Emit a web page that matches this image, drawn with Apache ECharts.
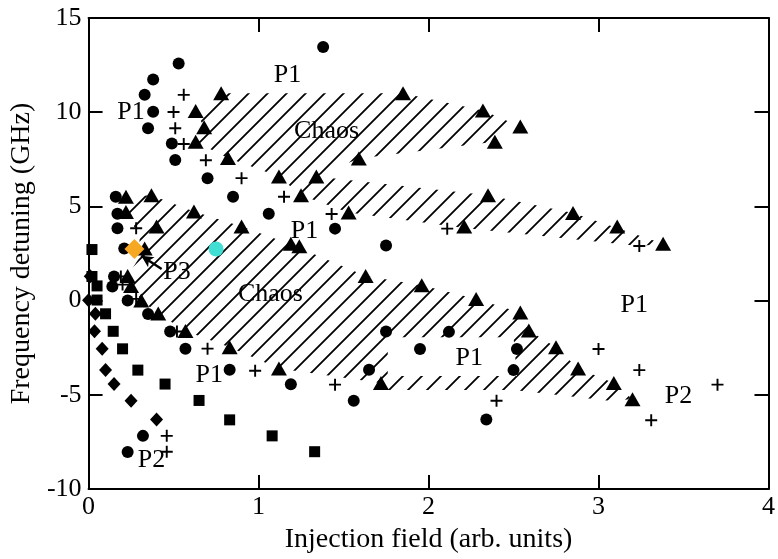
<!DOCTYPE html>
<html>
<head>
<meta charset="utf-8">
<title>Injection map</title>
<script src="https://cdn.jsdelivr.net/npm/echarts/dist/echarts.min.js"></script>
<style>
  html, body { margin: 0; padding: 0; background: #fff; }
  #chart { width: 778px; height: 559px; }
</style>
</head>
<body>
<div id="chart"></div>
<script>
// measured points: [injection field, detuning GHz]
var circles = [
  [1.38, 13.46], [0.53, 12.59], [0.38, 11.74], [0.33, 10.92], [0.38, 10.03], [0.35, 9.15],
  [0.49, 8.34], [0.51, 7.46], [0.70, 6.50], [0.85, 5.51], [0.16, 5.51], [0.17, 4.61],
  [0.17, 3.84], [0.21, 2.76], [1.06, 4.61], [1.45, 3.82], [1.75, 2.93],
  [0.15, 1.28], [0.14, 0.75], [0.23, 0.01], [0.35, -0.71], [0.48, -1.64], [0.57, -2.55],
  [0.83, -3.67], [1.19, -4.44], [1.56, -5.32], [1.75, -1.64], [1.65, -3.67], [0.32, -7.18],
  [0.23, -8.03], [1.95, -2.57], [2.12, -1.66], [2.52, -2.57], [2.50, -3.69], [2.34, -6.31]
];
var triangles = [
  [0.78, 11.0], [0.63, 10.06], [0.68, 9.20], [0.63, 8.43], [0.82, 7.57], [0.22, 5.51],
  [0.37, 5.59], [0.22, 4.70], [0.62, 4.73], [0.40, 3.93], [0.90, 3.93], [0.33, 2.76],
  [1.12, 6.59], [1.34, 6.59], [1.25, 5.59], [1.53, 4.67], [1.59, 7.54], [1.85, 11.0],
  [1.19, 3.02], [1.24, 2.88], [2.32, 10.09], [2.54, 9.24], [2.39, 8.43], [2.35, 5.59],
  [2.21, 3.93], [2.85, 4.65], [3.11, 3.93], [3.38, 3.02],
  [0.23, 1.30], [0.25, 0.78], [0.31, 0.01], [0.41, -0.68], [0.57, -1.62], [0.83, -2.48],
  [1.12, -3.60], [1.63, 1.30], [1.72, -4.37], [1.96, 0.81], [2.28, 0.09], [2.54, -0.63],
  [2.59, -1.59], [2.75, -2.48], [2.88, -3.60], [3.09, -4.37], [3.20, -5.23]
];
var pluses = [
  [0.56, 10.92], [0.50, 10.01], [0.51, 9.15], [0.56, 8.31], [0.69, 7.45], [0.90, 6.50],
  [0.28, 3.84], [1.15, 5.51], [1.43, 4.60], [2.11, 3.82], [3.24, 2.90],
  [0.19, 1.28], [0.20, 0.85], [0.28, 0.09], [0.52, -1.64], [0.70, -2.55], [0.98, -3.72],
  [1.45, -4.46], [0.46, -7.18], [0.46, -8.02], [2.40, -5.32], [3.00, -2.57], [3.24, -3.69],
  [3.31, -6.35], [3.70, -4.46]
];
var squares = [
  [0.02, 2.71], [0.02, 1.28], [0.05, 0.78], [0.05, 0.03], [0.10, -0.70], [0.145, -1.63],
  [0.20, -2.56], [0.29, -3.69], [0.45, -4.43], [0.65, -5.30], [0.83, -6.33], [1.08, -7.18],
  [1.33, -8.02]
];
var diamonds = [
  [0.01, 1.29], [0.0, 0.02], [0.04, -0.70], [0.035, -1.63], [0.08, -2.56], [0.10, -3.69],
  [0.15, -4.43], [0.25, -5.32], [0.40, -6.31]
];
var orangePoint = [[0.27, 2.74]];
var cyanPoint = [[0.75, 2.74]];
var arrowFrom = [0.43, 1.68];
var arrowTo = [0.31, 2.38];

// hatched (chaos) regions, outlined by their corner points
var chaosUpper = [
  [0.63, 10.06], [0.78, 11.0], [1.85, 11.0], [2.32, 10.09], [2.54, 9.24], [2.39, 8.43],
  [1.59, 7.54], [1.34, 6.59], [2.35, 5.59], [2.85, 4.65], [3.38, 3.02], [3.24, 2.90],
  [2.21, 3.85], [1.53, 4.67], [1.25, 5.59], [1.12, 6.59], [0.82, 7.57], [0.63, 8.43],
  [0.68, 9.20]
];
var chaosCentral = [
  [0.22, 5.51], [0.37, 5.59], [0.62, 4.73], [0.90, 3.93], [1.20, 2.95], [1.63, 1.30],
  [1.96, 0.81], [2.28, 0.09], [2.54, -0.63], [2.59, -1.59], [2.75, -2.48], [2.88, -3.60],
  [3.09, -4.37], [3.20, -5.23], [3.05, -5.30], [2.50, -4.75], [1.75, -4.75], [1.72, -4.37],
  [1.12, -3.60], [0.83, -2.48], [0.57, -1.62], [0.41, -0.68], [0.31, 0.01], [0.25, 0.78],
  [0.23, 1.30], [0.30, 2.30], [0.30, 3.50], [0.24, 4.30]
];
var periodicHole = [[1.76, -1.95], [2.50, -1.95], [2.52, -4.0], [1.76, -4.0]];

var regionLabels = [
  [1.17, 12.14, 'P1'], [0.25, 10.16, 'P1'], [1.40, 9.14, 'Chaos'], [1.27, 3.84, 'P1'],
  [0.52, 1.67, 'P3'], [1.07, 0.49, 'Chaos'], [3.21, -0.08, 'P1'], [2.24, -2.92, 'P1'],
  [0.71, -3.79, 'P1'], [3.47, -4.92, 'P2'], [0.37, -8.32, 'P2']
];

var xTicks = [0, 1, 2, 3, 4];
var yTicks = [-10, -5, 0, 5, 10, 15];

var serif = '"Liberation Serif", "DejaVu Serif", serif';

// diagonal hatch pattern
var hatch = document.createElement('canvas');
hatch.width = 19;
hatch.height = 19;
var hctx = hatch.getContext('2d');
hctx.strokeStyle = '#000';
hctx.lineWidth = 1.8;
hctx.beginPath();
hctx.moveTo(-2, 21); hctx.lineTo(21, -2);
hctx.moveTo(-2, 2); hctx.lineTo(2, -2);
hctx.moveTo(17, 21); hctx.lineTo(21, 17);
hctx.stroke();

function polygon(points, fill, z) {
  return {
    type: 'custom',
    coordinateSystem: 'cartesian2d',
    silent: true,
    z: z,
    data: [[0, 0]],
    renderItem: function (params, api) {
      return {
        type: 'polygon',
        shape: { points: points.map(function (p) { return api.coord(p); }) },
        style: { fill: fill, stroke: null }
      };
    }
  };
}

function markers(data, symbol, size, color) {
  return {
    type: 'scatter',
    data: data,
    symbol: symbol,
    symbolSize: size,
    clip: false,
    silent: true,
    z: 5,
    itemStyle: { color: color, opacity: 1 }
  };
}

var chart = echarts.init(document.getElementById('chart'));

var axisCommon = {
  axisLine: { show: true, onZero: false, lineStyle: { color: '#000', width: 2 } },
  axisTick: { show: true, inside: true, length: 14, lineStyle: { color: '#000', width: 2 } },
  splitLine: { show: false }
};

var plusPath = 'path://M0,4.2H4.2V0H5.8V4.2H10V5.8H5.8V10H4.2V5.8H0Z';

chart.setOption({
  animation: false,
  backgroundColor: '#fff',
  grid: { left: 83, right: 4, top: 18, bottom: 57 },
  xAxis: [
    Object.assign({
      type: 'value', min: xTicks[0], max: xTicks[xTicks.length - 1], interval: 1,
      position: 'bottom',
      name: 'Injection field (arb. units)',
      nameLocation: 'middle',
      nameGap: 37,
      nameTextStyle: { fontFamily: serif, fontSize: 28, color: '#000' },
      axisLabel: { fontFamily: serif, fontSize: 26, color: '#000', margin: 5 }
    }, axisCommon),
    Object.assign({
      type: 'value', min: xTicks[0], max: xTicks[xTicks.length - 1], interval: 1,
      position: 'top',
      axisLabel: { show: false }
    }, axisCommon)
  ],
  yAxis: [
    Object.assign({
      type: 'value', min: yTicks[0], max: yTicks[yTicks.length - 1], interval: 5,
      position: 'left',
      name: 'Frequency detuning (GHz)',
      nameLocation: 'middle',
      nameGap: 41,
      nameTextStyle: { fontFamily: serif, fontSize: 28, color: '#000' },
      axisLabel: { fontFamily: serif, fontSize: 26, color: '#000', margin: 7 }
    }, axisCommon),
    Object.assign({
      type: 'value', min: yTicks[0], max: yTicks[yTicks.length - 1], interval: 5,
      position: 'right',
      axisLabel: { show: false }
    }, axisCommon)
  ],
  series: [
    polygon(chaosUpper, { image: hatch, repeat: 'repeat' }, 1),
    polygon(chaosCentral, { image: hatch, repeat: 'repeat' }, 1),
    polygon(periodicHole, '#fff', 2),
    markers(circles, 'circle', 12, '#000'),
    markers(triangles, 'triangle', [16, 14], '#000'),
    markers(pluses, plusPath, 12, '#000'),
    markers(squares, 'rect', 11, '#000'),
    markers(diamonds, 'diamond', [13, 14], '#000'),
    Object.assign(markers(orangePoint, 'diamond', [20, 20], '#f7a823'), {
      markLine: {
        silent: true,
        symbol: ['none', 'arrow'],
        symbolSize: [9, 12],
        label: { show: false },
        lineStyle: { type: 'solid', color: '#000', width: 2.5, opacity: 1 },
        data: [[{ coord: arrowFrom }, { coord: arrowTo }]]
      }
    }),
    markers(cyanPoint, 'circle', 15, '#40ded3'),
    {
      type: 'scatter',
      silent: true,
      z: 6,
      symbolSize: 1,
      itemStyle: { color: 'rgba(0,0,0,0)' },
      data: regionLabels.map(function (l) { return { value: [l[0], l[1]], name: l[2] }; }),
      label: {
        show: true, position: 'inside', formatter: '{b}', offset: [0, 3],
        fontFamily: serif, fontSize: 26, color: '#000',
        textBorderWidth: 0, opacity: 1
      }
    }
  ]
});
</script>
</body>
</html>
